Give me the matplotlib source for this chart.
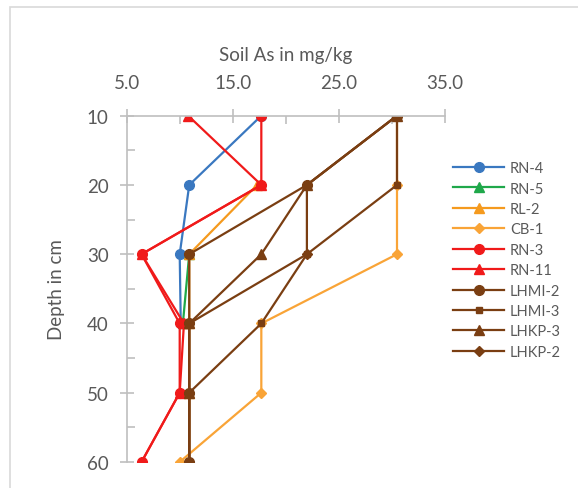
import numpy as np
import matplotlib
matplotlib.use('Agg')
from matplotlib import pyplot as plt
from matplotlib.patches import Rectangle
from matplotlib.ticker import MultipleLocator, FormatStrFormatter

plt.rcParams['font.family'] = ['Lato', 'DejaVu Sans']

nan = np.nan
depth = [10, 20, 30, 40, 50, 60]

rn4 = [17.7, 10.9, 10.0, 10.1, nan, nan]
rn5 = [nan, nan, 10.9, 10.3, nan, nan]
rl2 = [nan, 17.3, 10.9, 10.9, 10.9, 10.9]
cb1 = [30.5, 30.5, 30.5, 17.7, 17.7, 10.0]
rn3 = [17.7, 17.7, 6.4, 10.0, 10.0, 6.4]
rn11 = [10.8, 17.7, 6.4, 10.4, 10.0, 6.4]
lhmi2 = [30.5, 22.0, 10.9, 10.9, 10.9, 10.9]
lhmi3 = [30.5, 30.5, 22.0, 17.7, 10.9, 10.9]
lhkp3 = [30.5, 22.0, 17.7, 10.9, 10.9, 10.9]
lhkp2 = [30.5, 22.0, 22.0, 10.9, 10.9, 10.9]

x_major = [5, 15, 25, 35]
x_minor = [10, 20, 30]

blue = '#3A78C0'
green = '#1FA84A'
orange = '#F59A1E'
orange2 = '#F9A437'
red = '#F01A1A'
brown = '#7A3E12'

series = [
    ('RN-4', rn4, blue, 'o', 7),
    ('RN-5', rn5, green, '^', 7),
    ('RL-2', rl2, orange, '^', 7),
    ('CB-1', cb1, orange2, 'D', 5),
    ('RN-3', rn3, red, 'o', 7),
    ('RN-11', rn11, red, '^', 7),
    ('LHMI-2', lhmi2, brown, 'o', 7),
    ('LHMI-3', lhmi3, brown, 's', 4),
    ('LHKP-3', lhkp3, brown, '^', 7),
    ('LHKP-2', lhkp2, brown, 'D', 5),
]

fig = plt.figure(figsize=(5.78, 4.89), dpi=100)
W, H = 578, 489
ax = fig.add_axes([126.7 / W, 1 - 463 / H, (444.7 - 126.7) / W, (463 - 116.7) / H])

for name, vals, col, mk, ms in series:
    ax.plot(vals, depth, color=col, marker=mk, markersize=ms, linewidth=1.6, label=name)

ax.set_xlim(5, 35)
ax.set_ylim(60, 10)
ax.xaxis.tick_top()
ax.xaxis.set_label_position('top')
ax.set_xticks(x_major)
ax.set_xticks(x_minor, minor=True)
ax.yaxis.set_major_locator(MultipleLocator(10))
ax.yaxis.set_minor_locator(MultipleLocator(5))
ax.xaxis.set_major_formatter(FormatStrFormatter('%.1f'))

gray = '#BFBFBF'
for s in ['right', 'bottom']:
    ax.spines[s].set_visible(False)
for s in ['top', 'left']:
    ax.spines[s].set_color(gray)
    ax.spines[s].set_linewidth(1.2)
ax.tick_params(which='major', direction='inout', length=10, width=1.2, color=gray,
               labelsize=13.5, labelcolor='#595959')
ax.tick_params(axis='x', which='major', pad=13)
ax.tick_params(axis='y', which='major', pad=8)
ax.tick_params(which='minor', direction='in', length=6, width=1.2, color=gray)
ax.set_xlabel('Soil As in mg/kg', fontsize=13.5, color='#595959', labelpad=10)
ax.set_ylabel('Depth in cm', fontsize=13.5, color='#595959', labelpad=16)

ax.legend(loc='upper left', bbox_to_anchor=(440 / W, 1 - 149 / H),
          bbox_transform=fig.transFigure, frameon=False, fontsize=10.5,
          labelcolor='#595959', handlelength=3.5, handletextpad=0.4,
          labelspacing=0.44)

fig.patches.append(Rectangle((10 / W, -0.05), 1.0, 1 - 8 / H + 0.05,
                             transform=fig.transFigure, fill=False,
                             edgecolor='#D9D9D9', linewidth=1.2))

fig.savefig('out.png', dpi=100)
